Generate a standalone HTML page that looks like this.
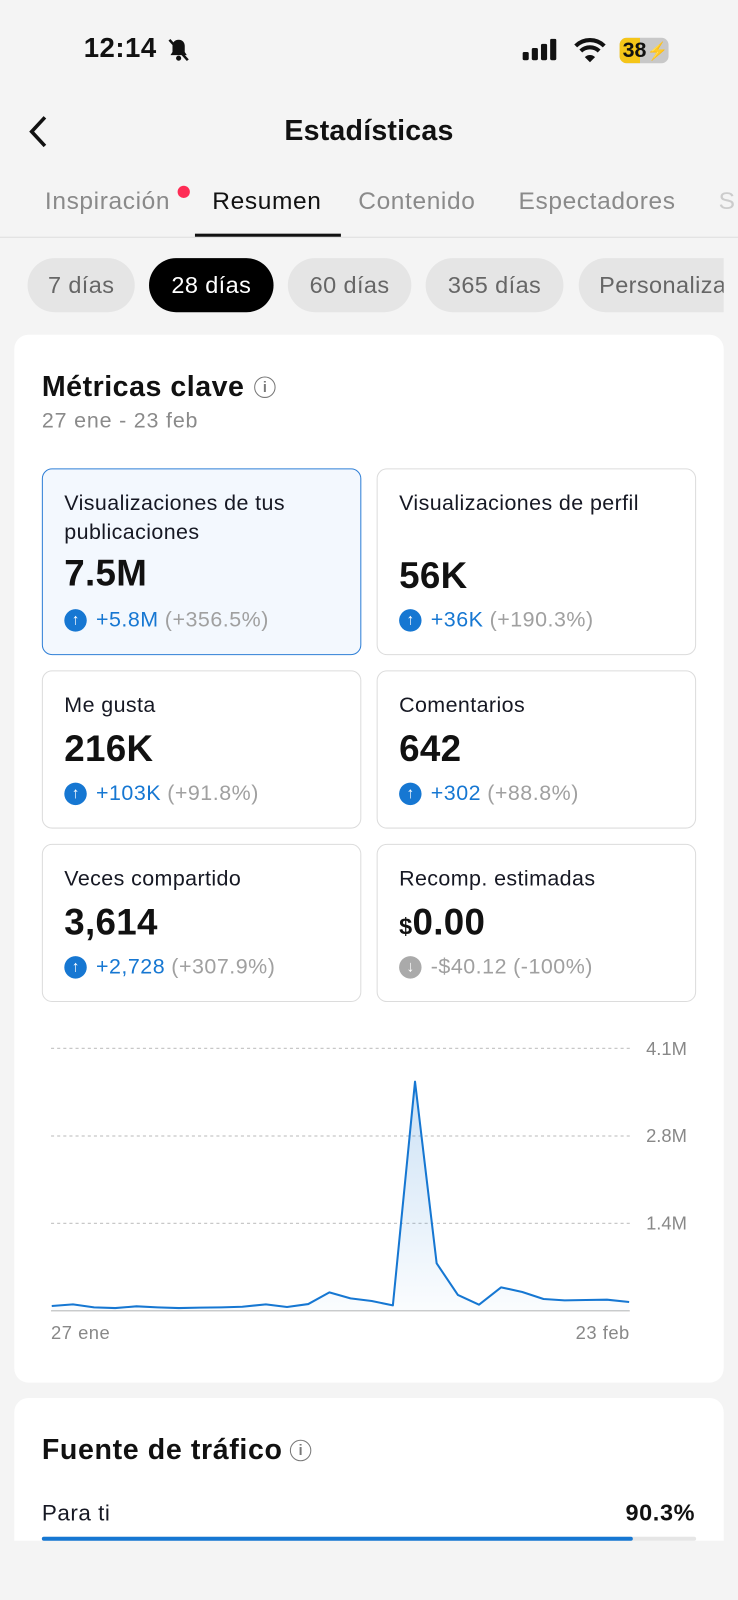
<!DOCTYPE html>
<html><head><meta charset="utf-8"><style>
*{margin:0;padding:0;box-sizing:border-box}
html,body{width:738px;height:1600px;overflow:hidden;background:#f4f4f4;font-family:"Liberation Sans",Arial,sans-serif}
#w{position:absolute;left:0;top:0;width:723px;height:1568px;transform:scale(1.0207,1.0204);transform-origin:0 0;background:#f4f4f4}
.a{position:absolute;white-space:nowrap}
.card{position:absolute;background:#fff;border-radius:14px}
.box{position:absolute;border:1.5px solid #dcdcdc;border-radius:10px;background:#fff}
.box .l{position:absolute;left:21px;font-size:21px;letter-spacing:.4px;color:#161823;line-height:28px}
.box .v{position:absolute;left:21px;font-size:36px;letter-spacing:.3px;font-weight:bold;color:#111}
.box .d{position:absolute;left:21px;font-size:21px;letter-spacing:.5px;color:#1677d2;display:flex;align-items:center}
.box .d i{display:inline-block;width:22px;height:22px;border-radius:50%;background:#1677d2;color:#fff;font-style:normal;font-size:15px;text-align:center;line-height:22px;margin-right:9px;font-weight:bold;letter-spacing:0}
.box .d span{color:#a0a0a0;margin-left:6px}
.pill{position:absolute;top:253px;height:53px;border-radius:27px;background:#e5e5e5;color:#666;font-size:23px;letter-spacing:.4px;text-align:center;line-height:53px}
.tab{position:absolute;top:184px;font-size:24px;letter-spacing:.6px;color:#8a8a8a}
</style></head><body><div id="w">
<div class="a" style="left:82px;top:32px;font-size:27px;letter-spacing:.5px;font-weight:bold;color:#111">12:14</div>
<svg class="a" style="left:162px;top:36px" width="26" height="26" viewBox="0 0 26 26"><path d="M13 3c-4 0-6 3-6 6v6l-2 3h16l-2-3V9c0-3-2-6-6-6z" fill="#111"/><circle cx="13" cy="21" r="2.5" fill="#111"/><line x1="4" y1="3" x2="22" y2="23" stroke="#111" stroke-width="2.5"/></svg>
<svg class="a" style="left:512px;top:38px" width="40" height="22"><rect x="0" y="13" width="6" height="8" rx="1.5" fill="#111"/><rect x="9" y="9" width="6" height="12" rx="1.5" fill="#111"/><rect x="18" y="5" width="6" height="16" rx="1.5" fill="#111"/><rect x="27" y="0" width="6" height="21" rx="1.5" fill="#111"/></svg>
<svg class="a" style="left:562px;top:36px" width="32" height="26" viewBox="0 0 32 26"><path d="M2 9a20 20 0 0 1 28 0" stroke="#111" stroke-width="4" fill="none"/><path d="M7 14a13 13 0 0 1 18 0" stroke="#111" stroke-width="4" fill="none"/><path d="M16 25l-5-5a7 7 0 0 1 10 0z" fill="#111"/></svg>
<div class="a" style="left:607px;top:37px;width:48px;height:25px;border-radius:7px;background:#c8c8c8;overflow:hidden"><div style="width:20px;height:25px;background:#f5c518"></div></div>
<div class="a" style="left:610px;top:37px;font-size:21px;font-weight:bold;color:#111;line-height:25px">38<span style="font-size:17px">⚡</span></div>
<svg class="a" style="left:26px;top:112px" width="24" height="34"><path d="M18 3L5 17l13 14" stroke="#111" stroke-width="3.5" fill="none"/></svg>
<div class="a" style="left:0;width:723px;text-align:center;top:112px;font-size:28px;letter-spacing:.2px;font-weight:bold;color:#111">Estadísticas</div>
<div class="tab" style="left:44px">Inspiración</div>
<div class="a" style="left:174px;top:182px;width:12px;height:12px;border-radius:50%;background:#fe2c55"></div>
<div class="tab" style="left:208px;color:#111">Resumen</div>
<div class="tab" style="left:351px">Contenido</div>
<div class="tab" style="left:508px">Espectadores</div>
<div class="tab" style="left:704px;color:#ccc">S</div>
<div class="a" style="left:0;top:232px;width:723px;height:1px;background:#ddd"></div>
<div class="a" style="left:191px;top:229px;width:143px;height:3px;background:#111"></div>
<div class="pill" style="left:27px;width:105px">7 días</div>
<div class="pill" style="left:146px;width:122px;background:#000;color:#fff">28 días</div>
<div class="pill" style="left:282px;width:121px">60 días</div>
<div class="pill" style="left:417px;width:135px">365 días</div>
<div class="pill" style="left:567px;width:170px;text-align:left;padding-left:20px">Personaliza</div>
<div class="a" style="left:709px;top:250px;width:14px;height:60px;background:#f4f4f4"></div>

<div class="card" style="left:14px;top:328px;width:695px;height:1027px"></div>
<div class="a" style="left:41px;top:363px;font-size:28px;letter-spacing:.5px;font-weight:bold;color:#111">Métricas clave</div>
<div class="a" style="left:249px;top:369px;width:21px;height:21px;border:1.8px solid #777;border-radius:50%;font-size:14px;color:#777;text-align:center;line-height:18px;font-weight:bold">i</div>
<div class="a" style="left:41px;top:401px;font-size:21px;letter-spacing:.8px;color:#8a8a8a">27 ene - 23 feb</div>

<div class="box" style="left:41px;top:459px;width:313px;height:183px;background:#f3f8fe;border-color:#2f7fd6"><div class="l" style="top:20px">Visualizaciones de tus<br>publicaciones</div><div class="v" style="top:81px">7.5M</div><div class="d" style="top:136px"><i>↑</i>+5.8M<span>(+356.5%)</span></div></div>
<div class="box" style="left:369px;top:459px;width:313px;height:183px"><div class="l" style="top:20px">Visualizaciones de perfil</div><div class="v" style="top:83px">56K</div><div class="d" style="top:136px"><i>↑</i>+36K<span>(+190.3%)</span></div></div>
<div class="box" style="left:41px;top:657px;width:313px;height:155px"><div class="l" style="top:20px">Me gusta</div><div class="v" style="top:55px">216K</div><div class="d" style="top:108px"><i>↑</i>+103K<span>(+91.8%)</span></div></div>
<div class="box" style="left:369px;top:657px;width:313px;height:155px"><div class="l" style="top:20px">Comentarios</div><div class="v" style="top:55px">642</div><div class="d" style="top:108px"><i>↑</i>+302<span>(+88.8%)</span></div></div>
<div class="box" style="left:41px;top:827px;width:313px;height:155px"><div class="l" style="top:20px">Veces compartido</div><div class="v" style="top:55px">3,614</div><div class="d" style="top:108px"><i>↑</i>+2,728<span>(+307.9%)</span></div></div>
<div class="box" style="left:369px;top:827px;width:313px;height:155px"><div class="l" style="top:20px">Recomp. estimadas</div><div class="v" style="top:55px"><span style="font-size:23px">$</span>0.00</div><div class="d" style="top:108px;color:#a0a0a0"><i style="background:#aaa">↓</i>-$40.12<span>(-100%)</span></div></div>

<svg class="a" style="left:0;top:0" width="723" height="1568">
<defs><linearGradient id="g" x1="0" y1="0" x2="0" y2="1"><stop offset="0" stop-color="#1677d2" stop-opacity=".22"/><stop offset="1" stop-color="#1677d2" stop-opacity=".02"/></linearGradient></defs>
<g stroke="#c8c8c8" stroke-width="1.2" stroke-dasharray="3,3"><line x1="50" y1="1027.4" x2="617" y2="1027.4"/><line x1="50" y1="1113.3" x2="617" y2="1113.3"/><line x1="50" y1="1198.9" x2="617" y2="1198.9"/></g>
<line x1="50" y1="1284.5" x2="617" y2="1284.5" stroke="#ccc" stroke-width="1.5"/>
<polygon fill="url(#g)" points="50.7,1284.5 50.7,1279.9 71.5,1278.3 92.2,1281.2 112.9,1281.9 133.7,1280.2 154.4,1281.2 175.2,1281.9 195.9,1281.5 216.7,1281.2 237.4,1280.6 260.5,1278.3 281.2,1280.9 302,1278 322.7,1266.5 343.4,1272.4 364.2,1275 384.9,1279.3 406.6,1060 427.8,1238.1 448.6,1269.1 469.3,1278.6 491,1261.6 511.7,1266.2 532.5,1273 553.2,1274.4 574,1274 594.7,1273.7 616.4,1276 616.4,1284.5"/>
<polyline fill="none" stroke="#1677d2" stroke-width="2" stroke-linejoin="round" points="50.7,1279.9 71.5,1278.3 92.2,1281.2 112.9,1281.9 133.7,1280.2 154.4,1281.2 175.2,1281.9 195.9,1281.5 216.7,1281.2 237.4,1280.6 260.5,1278.3 281.2,1280.9 302,1278 322.7,1266.5 343.4,1272.4 364.2,1275 384.9,1279.3 406.6,1060 427.8,1238.1 448.6,1269.1 469.3,1278.6 491,1261.6 511.7,1266.2 532.5,1273 553.2,1274.4 574,1274 594.7,1273.7 616.4,1276"/>
<g font-family="Liberation Sans, sans-serif" font-size="18" fill="#888"><text x="673" y="1034" text-anchor="end">4.1M</text><text x="673" y="1119" text-anchor="end">2.8M</text><text x="673" y="1205" text-anchor="end">1.4M</text><text x="50" y="1312" letter-spacing=".5">27 ene</text><text x="617" y="1312" text-anchor="end" letter-spacing=".5">23 feb</text></g>
</svg>

<div class="card" style="left:14px;top:1370px;width:695px;height:140px;border-radius:14px 14px 0 0"></div>
<div class="a" style="left:41px;top:1405px;font-size:28px;letter-spacing:.6px;font-weight:bold;color:#111">Fuente de tráfico</div>
<div class="a" style="left:284px;top:1411px;width:21px;height:21px;border:1.8px solid #777;border-radius:50%;font-size:14px;color:#777;text-align:center;line-height:18px;font-weight:bold">i</div>
<div class="a" style="left:41px;top:1470px;font-size:22px;letter-spacing:.5px;color:#161823">Para ti</div>
<div class="a" style="right:42px;top:1469px;font-size:23px;letter-spacing:.6px;font-weight:bold;color:#111">90.3%</div>
<div class="a" style="left:41px;top:1506px;width:641px;height:4px;background:#e6e6e6;border-radius:2px"><div style="width:579px;height:4px;background:#1677d2;border-radius:2px"></div></div>
</div></body></html>
